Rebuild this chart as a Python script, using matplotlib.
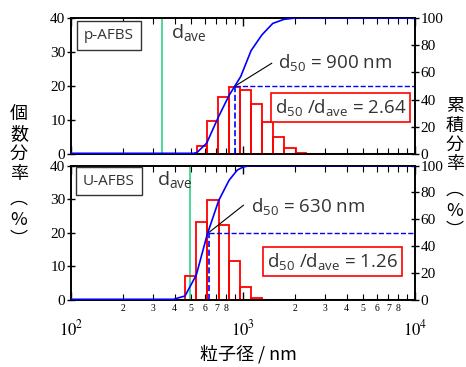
import numpy as np
import matplotlib
matplotlib.use('Agg')
import matplotlib.pyplot as plt
from matplotlib.ticker import FixedLocator, FixedFormatter, NullFormatter

plt.rcParams['mathtext.fontset'] = 'stix'

# p-AFBS
p_edges = [539, 617, 718, 829, 966, 1114, 1287, 1489, 1731, 2024, 2323]
p_counts = [2.4, 9.7, 16.9, 19.8, 18.8, 14.6, 9.5, 4.9, 1.9, 0.4]
p_cum_x = [100, 514, 539, 615, 718, 829, 970, 1114, 1286, 1489, 1731, 2024, 10000]
p_cum_y = [0.5, 0.5, 1, 8, 27, 43, 57, 76, 87.5, 96, 99, 100, 100]
p_d50, p_dave, p_ratio = 900, 340, 2.64

# U-AFBS
u_edges = [460, 535, 620, 722, 829, 961, 1117, 1289]
u_counts = [7.2, 23.2, 29.8, 22.2, 11.5, 4.0, 0.6]
u_cum_x = [100, 394, 460, 535, 620, 722, 829, 926, 1005, 1100, 10000]
u_cum_y = [0.5, 0.5, 3, 18.6, 49, 74, 89, 96.7, 99, 100, 100]
u_d50, u_dave, u_ratio = 630, 490, 1.26

left_label = ['個', '数', '分', '率', '︵', '%', '︶']
right_label = ['累', '積', '分', '率', '︵', '%', '︶']
x_label = '粒子径 / nm'

serif = 'Liberation Serif'
sans = 'Open Sans'
cjk = ['Noto Sans CJK JP', 'DejaVu Sans']
txt_col = '#333333'

fig = plt.figure(figsize=(4.66, 3.67), dpi=100)
ax_top = fig.add_axes([0.1524, 0.5804, 0.7382, 0.3706])
ax_bot = fig.add_axes([0.1524, 0.1826, 0.7382, 0.3662])


def panel(ax, name, edges, counts, cx, cy, d50, dave, ratio,
          lead_end, d50_pos, box_pos, name_y, dave_pos, show_x):
    edges = np.array(edges, dtype=float)
    ax.set_xscale('log')
    ax.set_xlim(100, 10000)
    ax.set_ylim(0, 40)
    ax.bar(edges[:-1], counts, width=np.diff(edges), align='edge',
           fill=False, edgecolor='red', linewidth=1.3, zorder=3)
    ax.axhline(0, color='red', lw=2.2, zorder=2)
    ax.axvline(dave, color='#3fd68e', lw=1.3, zorder=2)

    ax2 = ax.twinx()
    ax2.set_ylim(0, 100)
    ax2.set_xlim(100, 10000)
    ax2.plot(cx, cy, color='blue', lw=1.2, zorder=4)
    ax2.plot([d50, d50], [0, 50], '--', color='blue', lw=1.2)
    ax2.plot([d50, 10000], [50, 50], '--', color='blue', lw=1.0)
    ax2.plot([d50, lead_end[0]], [50, lead_end[1]], color='black', lw=0.8)
    ax2.text(d50_pos[0], d50_pos[1], r'$\mathregular{d_{50}}$ = %d nm' % d50,
             fontsize=13.5, family=sans, color=txt_col, va='center', ha='left')
    ax2.text(box_pos[0], box_pos[1],
             r'$\mathregular{d_{50}}$ /$\mathregular{d_{ave}}$ = %.2f' % ratio,
             fontsize=13.5, family=sans, color=txt_col, va='center', ha='center',
             bbox=dict(boxstyle='square,pad=0.22', fc='white', ec='red', lw=1.2))
    ax2.text(0.1096, name_y, name, transform=ax.transAxes, fontsize=11,
             family=sans, color=txt_col, va='center', ha='center',
             bbox=dict(boxstyle='square,pad=0.45', fc='white', ec='#333333', lw=1.0))
    ax2.text(dave_pos[0], dave_pos[1], r'$\mathregular{d_{ave}}$',
             transform=ax.transAxes, fontsize=14, family=sans, color=txt_col,
             va='center', ha='left')

    ax.set_yticks([0, 10, 20, 30, 40])
    ax2.set_yticks([0, 20, 40, 60, 80, 100])
    ax.tick_params(axis='y', direction='inout', length=6, width=1, pad=1,
                   labelsize=11)
    ax2.tick_params(axis='y', direction='inout', length=6, width=1, pad=1,
                    labelsize=11)
    for lab in ax.get_yticklabels() + ax2.get_yticklabels():
        lab.set_family(serif)

    ax.xaxis.set_major_locator(FixedLocator([100, 1000, 10000]))
    minors = [m * d for d in (100, 1000) for m in range(2, 10)]
    ax.xaxis.set_minor_locator(FixedLocator(minors))
    ax.tick_params(axis='x', which='both', direction='in', top=True)
    ax.tick_params(axis='x', which='major', length=6, width=1)
    ax.tick_params(axis='x', which='minor', length=4, width=0.8)
    if show_x:
        ax.xaxis.set_major_formatter(FixedFormatter([r'$10^{2}$', r'$10^{3}$', r'$10^{4}$']))
        ax.xaxis.set_minor_formatter(FixedFormatter(
            [str(m) if m < 9 else '' for d in (100, 1000) for m in range(2, 10)]))
        ax.tick_params(axis='x', which='major', pad=14, labelsize=12)
        ax.tick_params(axis='x', which='minor', pad=3, labelsize=7)
        for lab in ax.get_xticklabels(minor=True):
            lab.set_family(serif)
    else:
        ax.xaxis.set_major_formatter(NullFormatter())
        ax.xaxis.set_minor_formatter(NullFormatter())
    for a in (ax, ax2):
        for s in a.spines.values():
            s.set_linewidth(1.2)
    return ax2


panel(ax_top, 'p-AFBS', p_edges, p_counts, p_cum_x, p_cum_y, p_d50, p_dave,
      p_ratio, (1468, 66.7), (1596, 67.6), (3690, 34.2), 0.873, (0.29, 0.89), False)
panel(ax_bot, 'U-AFBS', u_edges, u_counts, u_cum_x, u_cum_y, u_d50, u_dave,
      u_ratio, (1005, 70.5), (1110, 69.4), (3304, 28.6), 0.885, (0.249, 0.893), True)

# vertical (stacked) axis titles
left_y = [115, 134.5, 154, 173.5, 199, 220, 240]
right_y = [106, 125.5, 145, 164.5, 190, 211, 231]
for ch, yy in zip(left_label, left_y):
    fig.text(19 / 466, 1 - yy / 367, ch, family=cjk, fontsize=13,
             ha='center', va='center')
for ch, yy in zip(right_label, right_y):
    fig.text(455 / 466, 1 - yy / 367, ch, family=cjk, fontsize=13,
             ha='center', va='center')

fig.text(248 / 466, 1 - 354 / 367, x_label, family=cjk, fontsize=13,
         ha='center', va='center')

fig.savefig('out.png', dpi=100)
